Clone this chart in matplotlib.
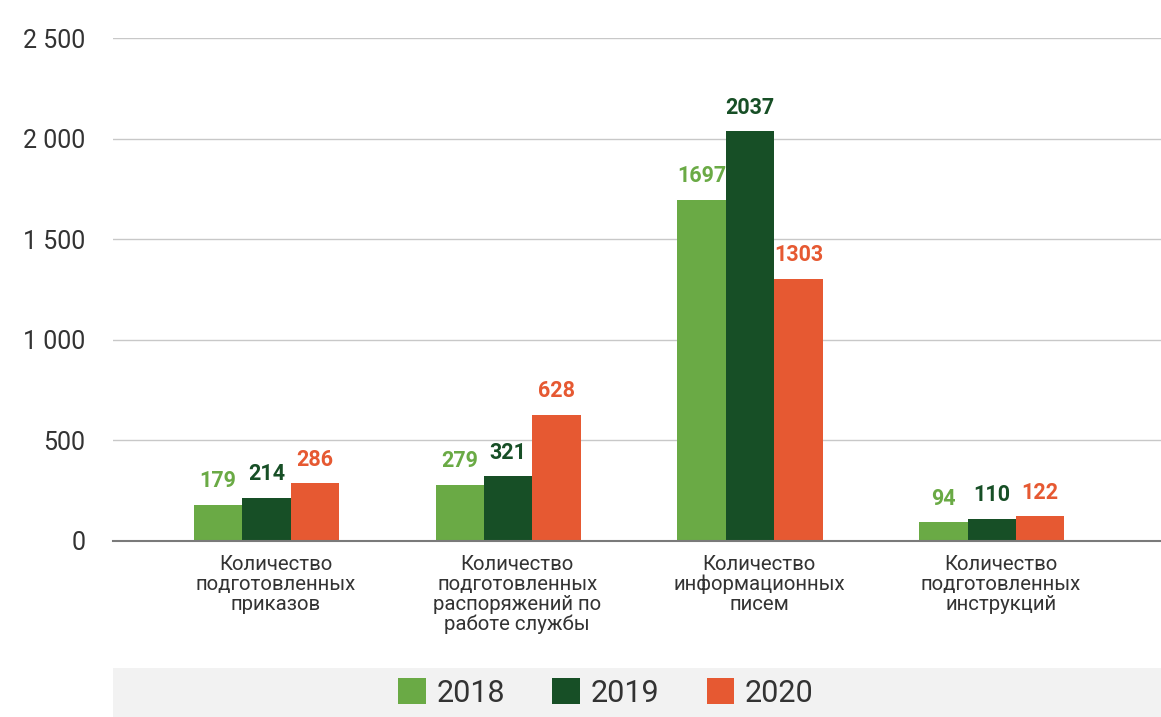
import matplotlib.pyplot as plt
import matplotlib.patches as mpatches
import matplotlib.transforms as mtransforms
import numpy as np

plt.rcParams['font.family'] = ['Roboto', 'DejaVu Sans']

# data
categories = [
    "Количество\nподготовленных\nприказов",
    "Количество\nподготовленных\nраспоряжений по\nработе службы",
    "Количество\nинформационных\nписем",
    "Количество\nподготовленных\nинструкций",
]
years = ["2018", "2019", "2020"]
v2018 = [179, 279, 1697, 94]
v2019 = [214, 321, 2037, 110]
v2020 = [286, 628, 1303, 122]
colors = ["#6aaa45", "#174f26", "#e65932"]

W, H = 1161, 717
fig = plt.figure(figsize=(W / 100, H / 100), dpi=100)
ax = fig.add_axes([113 / W, 1 - 541 / H, 1 - 113 / W, (541 - 38) / H])

x = np.arange(len(categories))
bw = 0.2
series = [v2018, v2019, v2020]
bars = []
for i, (vals, col, yr) in enumerate(zip(series, colors, years)):
    b = ax.bar(x + (i - 1) * bw, vals, width=bw, color=col, label=yr, zorder=3)
    bars.append(b)
    for rect, v in zip(b, vals):
        ax.annotate(str(v), (rect.get_x() + rect.get_width() / 2, v),
                    xytext=(0, 9), textcoords="offset points",
                    ha="center", va="bottom", fontsize=15.5,
                    fontweight="bold", color=col, zorder=5)

ax.set_xlim(-0.635, 3.70)
ax.set_ylim(0, 2500)
ax.set_yticks([0, 500, 1000, 1500, 2000, 2500])
ax.set_yticklabels(["0", "500", "1 000", "1 500", "2 000", "2 500"])
ax.yaxis.grid(True, color="#c8c8c8", linewidth=1, zorder=0)
ax.tick_params(axis="y", length=0, pad=20, labelsize=18, labelcolor="#333333")
ax.set_xticks(x)
ax.set_xticklabels(categories, fontsize=14.7, color="#333333", linespacing=1.06)
ax.tick_params(axis="x", length=0, pad=10)
# category labels sit a bit right of the bar groups
shift = mtransforms.ScaledTranslation(9 / 100, 0, fig.dpi_scale_trans)
for lbl in ax.get_xticklabels():
    lbl.set_transform(lbl.get_transform() + shift)
for s in ["top", "right", "left"]:
    ax.spines[s].set_visible(False)
ax.spines["bottom"].set_color("#7a7a7a")
ax.spines["bottom"].set_linewidth(1.5)
ax.spines["bottom"].set_zorder(4)

# legend band
fig.patches.append(mpatches.Rectangle((113 / W, 0), 1 - 113 / W, 49 / H,
                                      transform=fig.transFigure,
                                      facecolor="#f2f2f2", edgecolor="none", zorder=0))
fig.legend(handles=bars, labels=years, loc="center", ncol=3,
           bbox_to_anchor=(606 / W, 1 - 693 / H), frameon=False,
           fontsize=22, handlelength=0.9, handleheight=0.9,
           handletextpad=0.35, columnspacing=1.55, labelcolor="#333333")

fig.savefig("out.png", dpi=100)
